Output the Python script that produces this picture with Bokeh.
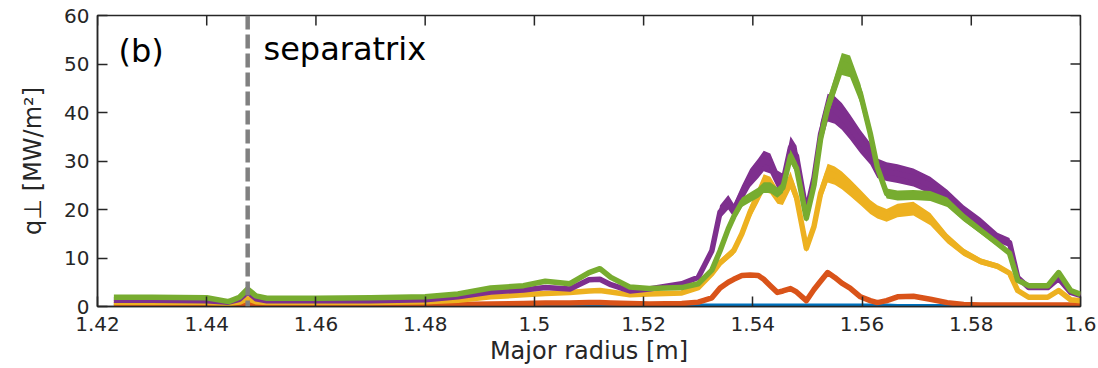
import numpy as np
from bokeh.plotting import figure
from bokeh.models import Range1d, FixedTicker, NumeralTickFormatter, Span, Label, ColumnDataSource
from bokeh.embed import file_html
from bokeh.resources import INLINE

# Major radius samples [m] and heat flux profiles q_perp [MW/m^2]
radius = [1.4230, 1.4300, 1.4400, 1.4440, 1.4460, 1.4475, 1.4490, 1.4510, 1.4600, 1.4700,
          1.4800, 1.4860, 1.4920, 1.4980, 1.5020, 1.5065, 1.5100, 1.5120, 1.5140, 1.5175,
          1.5210, 1.5270, 1.5300, 1.5325, 1.5340, 1.5355, 1.5365, 1.5380, 1.5395, 1.5410,
          1.5420, 1.5432, 1.5445, 1.5455, 1.5469, 1.5480, 1.5498, 1.5512, 1.5524, 1.5537,
          1.5550, 1.5563, 1.5578, 1.5597, 1.5615, 1.5628, 1.5645, 1.5665, 1.5694, 1.5725,
          1.5756, 1.5786, 1.5817, 1.5848, 1.5870, 1.5885, 1.5905, 1.5940, 1.5960, 1.5982,
          1.6000]

q_green = [1.9, 1.9, 1.8, 1.0, 1.9, 3.6, 2.2, 1.7, 1.7, 1.8,
           2.0, 2.6, 3.8, 4.3, 5.2, 4.7, 7.0, 7.8, 6.0, 4.0,
           3.7, 3.9, 4.7, 7.5, 11.5, 16.0, 18.5, 21.5, 22.5, 23.5,
           24.5, 24.5, 23.5, 24.5, 31.0, 28.5, 18.2, 25.0, 34.5, 41.0,
           45.5, 50.0, 49.5, 43.9, 35.7, 28.7, 23.3, 22.9, 23.0, 22.8,
           21.5, 18.4, 15.7, 13.0, 11.0, 5.4, 4.3, 4.3, 7.0, 3.3,
           2.5]

q_purple = [1.3, 1.3, 1.2, 0.9, 1.5, 3.0, 1.6, 1.2, 1.2, 1.2,
            1.4, 2.0, 3.0, 3.4, 3.9, 3.6, 5.5, 5.6, 4.5, 3.2,
            3.6, 4.7, 6.0, 11.5, 19.5, 21.5, 19.8, 23.3, 26.5, 28.5,
            30.0, 29.5, 26.2, 25.6, 32.8, 31.0, 19.5, 26.5, 35.5, 41.0,
            40.5, 39.2, 37.0, 34.0, 31.5, 28.5, 27.8, 27.4, 26.6, 25.0,
            22.5, 19.5, 17.1, 14.2, 13.2, 6.0, 3.9, 3.9, 5.8, 2.9,
            2.3]

q_yellow = [0.8, 0.8, 0.8, 0.6, 0.9, 1.6, 1.0, 0.8, 0.8, 0.8,
            1.0, 1.3, 2.0, 2.4, 2.7, 2.9, 3.2, 3.3, 3.0, 2.4,
            2.6, 2.8, 3.9, 6.8, 9.0, 10.5, 11.5, 15.0, 19.5, 23.0,
            25.5, 25.0, 22.8, 22.5, 26.0, 22.5, 12.0, 16.5, 23.3, 27.5,
            27.0, 26.0, 24.5, 22.5, 20.5, 19.5, 18.8, 19.8, 20.2, 18.0,
            14.0, 11.2, 9.3, 8.3, 6.9, 3.3, 1.9, 1.9, 3.3, 1.4,
            1.2]

q_orange = [0.3, 0.3, 0.3, 0.3, 0.3, 0.4, 0.3, 0.3, 0.3, 0.3,
            0.3, 0.4, 0.5, 0.6, 0.7, 0.7, 0.8, 0.8, 0.7, 0.6,
            0.5, 0.6, 0.9, 1.8, 3.8, 5.0, 5.6, 6.4, 6.5, 6.4,
            5.6, 4.3, 2.9, 3.2, 3.7, 3.0, 1.2, 3.5, 5.2, 7.0,
            6.0, 4.8, 3.8, 2.0, 1.2, 0.8, 1.2, 2.0, 2.1, 1.5,
            0.8, 0.4, 0.3, 0.3, 0.3, 0.3, 0.3, 0.3, 0.3, 0.3,
            0.3]

q_blue = [0.2, 0.2, 0.2, 0.2, 0.2, 0.2, 0.2, 0.2, 0.2, 0.2,
          0.2, 0.2, 0.2, 0.2, 0.2, 0.2, 0.2, 0.2, 0.2, 0.2,
          0.2, 0.3, 0.3, 0.3, 0.3, 0.3, 0.3, 0.3, 0.3, 0.3,
          0.3, 0.3, 0.3, 0.3, 0.3, 0.3, 0.3, 0.3, 0.3, 0.3,
          0.3, 0.3, 0.3, 0.3, 0.3, 0.3, 0.3, 0.2, 0.2, 0.2,
          0.2, 0.2, 0.2, 0.2, 0.2, 0.2, 0.2, 0.2, 0.2, 0.2,
          0.2]

x_ticks = [1.42, 1.44, 1.46, 1.48, 1.50, 1.52, 1.54, 1.56, 1.58, 1.60]
y_ticks = [0, 10, 20, 30, 40, 50, 60]
separatrix_r = 1.4475

FONT = "DejaVu Sans"
INK = "#262626"
X0, X1, Y0, Y1 = 1.42, 1.60, 0, 60
FRAME_L, FRAME_T, FRAME_W, FRAME_H = 97, 15, 983, 291


def at_px(sx, sy):
    """Canvas pixel position -> data coordinates (for text placement inside the box)."""
    return (X0 + (sx - FRAME_L) / FRAME_W * (X1 - X0),
            Y0 + (FRAME_T + FRAME_H - sy) / FRAME_H * (Y1 - Y0))


p = figure(width=1098, height=368, x_range=Range1d(X0, X1), y_range=Range1d(Y0, Y1),
           output_backend="svg", toolbar_location=None,
           min_border_left=FRAME_L, min_border_right=1098 - FRAME_L - FRAME_W,
           min_border_top=FRAME_T, min_border_bottom=368 - FRAME_T - FRAME_H)
p.background_fill_color = "white"
p.border_fill_color = "white"
p.grid.visible = False
p.outline_line_color = INK
p.outline_line_width = 1.5

for ax in (p.xaxis[0], p.yaxis[0]):
    ax.axis_line_color = INK
    ax.axis_line_width = 1.5
    ax.major_tick_line_color = INK
    ax.major_tick_line_width = 1.5
    ax.major_tick_in = 10
    ax.major_tick_out = 0
    ax.minor_tick_line_color = None
    ax.major_label_text_font = FONT
    ax.major_label_text_font_size = "20px"
    ax.major_label_text_color = INK
    ax.axis_label_text_font = FONT
    ax.axis_label_text_font_style = "normal"
    ax.axis_label_text_color = INK

p.xaxis.ticker = FixedTicker(ticks=x_ticks)
p.xaxis.formatter = NumeralTickFormatter(format="0.[00]")
p.xaxis.major_label_standoff = 10
p.xaxis.axis_label = "Major radius [m]"
p.xaxis.axis_label_text_font_size = "24px"
p.xaxis.axis_label_standoff = 3

p.yaxis.ticker = FixedTicker(ticks=y_ticks)
p.yaxis.major_label_standoff = 8
p.yaxis.axis_label = "q\u22a5 [MW/m\u00b2]"
p.yaxis.axis_label_text_font_size = "24px"
p.yaxis.axis_label_standoff = 14

# mirrored inward ticks on the top and right edges of the box
tick_dx = 10 / FRAME_W * (X1 - X0)
tick_dy = 10 / FRAME_H * (Y1 - Y0)
p.segment(x0=x_ticks, y0=[Y1] * len(x_ticks), x1=x_ticks, y1=[Y1 - tick_dy] * len(x_ticks),
          line_color=INK, line_width=1.5)
p.segment(x0=[X1] * len(y_ticks), y0=y_ticks, x1=[X1 - tick_dx] * len(y_ticks), y1=y_ticks,
          line_color=INK, line_width=1.5)

# profiles, drawn in plotting order so later ones sit on top;
# the shaded band around each trace stands for the shot-to-shot fluctuation
series = [
    (q_blue, "#0072BD", 0.00, 3.0),
    (q_orange, "#D95319", 0.06, 5.5),
    (q_yellow, "#EDB120", 0.07, 5.5),
    (q_purple, "#7E2F8E", 0.07, 5.5),
    (q_green, "#77AC30", 0.045, 5.5),
]
r = np.array(radius)
for vals, color, noise_frac, lw in series:
    v = np.array(vals)
    src = ColumnDataSource(dict(x=r, y=v, lo=v * (1 - noise_frac), hi=v * (1 + noise_frac)))
    if noise_frac > 0:
        p.varea(x="x", y1="lo", y2="hi", source=src, fill_color=color)
    p.line(x="x", y="y", source=src, line_color=color, line_width=lw, line_join="round")

p.add_layout(Span(location=separatrix_r, dimension="height", line_color="#808080",
                  line_width=4.5, line_dash="14 5"))

# annotations
bx, by = at_px(118, 50)
p.add_layout(Label(x=bx, y=by, text="(b)", text_font=FONT, text_font_size="32px",
                   text_color="black", text_baseline="alphabetic"))
sx_, sy_ = at_px(263, 48)
p.add_layout(Label(x=sx_, y=sy_, text="separatrix", text_font=FONT, text_font_size="32px",
                   text_color="black", text_baseline="alphabetic"))

open("out.html", "w").write(file_html(p, INLINE))
